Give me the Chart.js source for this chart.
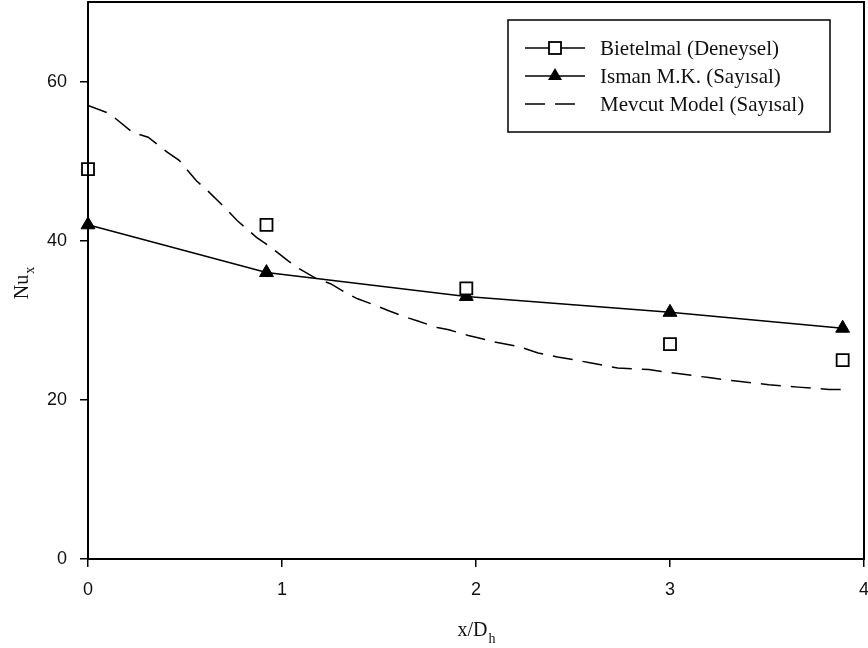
<!DOCTYPE html>
<html>
<head>
<meta charset="utf-8">
<script src="https://cdn.jsdelivr.net/npm/chart.js@4/dist/chart.umd.min.js"></script>
<style>
  html, body { margin: 0; padding: 0; background: #fff; }
  #wrap { width: 868px; height: 648px; }
</style>
</head>
<body>
<div id="wrap"><canvas id="grafica" width="868" height="648"></canvas></div>
<script>
// Nu_x datos
const xPuntos = [0, 0.92, 1.95, 3.0, 3.89];
const bietelmal = [49, 42, 34, 27, 25];
const isman = [42, 36, 33, 31, 29];

const modeloX = [0, 0.11, 0.23, 0.31, 0.41, 0.47, 0.56, 0.62, 0.72, 0.77, 0.87, 0.93, 1.03, 1.08,
    1.18, 1.25, 1.34, 1.39, 1.49, 1.55, 1.65, 1.70, 1.80, 1.86, 1.96, 2.01, 2.11, 2.22, 2.32, 2.42,
    2.58, 2.73, 2.89, 3.04, 3.20, 3.33, 3.51, 3.66, 3.82, 3.89];
const modeloY = [57.0, 56.0, 53.6, 53.0, 51.1, 50.1, 47.5, 46.2, 43.8, 42.5, 40.4, 39.4, 37.5, 36.6,
    35.2, 34.6, 33.3, 32.7, 31.8, 31.2, 30.3, 29.9, 29.1, 28.8, 28.1, 27.8, 27.2, 26.7, 25.9, 25.4,
    24.7, 24.0, 23.8, 23.3, 22.8, 22.4, 21.9, 21.6, 21.3, 21.3];

const xTicks = [0, 1, 2, 3, 4];
const yTicks = [0, 20, 40, 60];

const etiquetas = ['Bietelmal (Deneysel)', 'Isman M.K. (Sayısal)', 'Mevcut Model (Sayısal)'];

const serif = '"Liberation Serif", "Times New Roman", serif';
const sans = '"Liberation Sans", Arial, sans-serif';

const pares = (xs, ys) => xs.map((x, i) => ({ x: x, y: ys[i] }));

// sin relleno extra por las etiquetas de los extremos
function sinPadding(s) {
    s.paddingTop = 0;
    s.paddingBottom = 0;
    s.paddingLeft = 0;
    s.paddingRight = 0;
}

// marco, leyenda y títulos de ejes
const extras = {
    id: 'extras',
    afterDraw(chart) {
        const ctx = chart.ctx;
        const a = chart.chartArea;
        ctx.save();
        ctx.strokeStyle = '#000';
        ctx.lineWidth = 2;
        ctx.strokeRect(a.left, a.top, a.right - a.left, a.bottom - a.top);

        // leyenda
        const lx = 508, ly = 20, lw = 322, lh = 112;
        ctx.lineWidth = 1.5;
        ctx.strokeRect(lx, ly, lw, lh);
        const filas = [48, 76, 104];
        ctx.font = '21px ' + serif;
        ctx.fillStyle = '#111';
        ctx.textBaseline = 'middle';
        filas.forEach((fy, i) => {
            ctx.beginPath();
            ctx.lineWidth = 1.5;
            ctx.setLineDash(i === 2 ? [20, 10] : []);
            ctx.moveTo(525, fy);
            ctx.lineTo(585, fy);
            ctx.stroke();
            ctx.setLineDash([]);
            if (i === 0) {
                ctx.fillStyle = '#fff';
                ctx.fillRect(549, fy - 6, 12, 12);
                ctx.lineWidth = 1.8;
                ctx.strokeRect(549, fy - 6, 12, 12);
            } else if (i === 1) {
                ctx.beginPath();
                ctx.moveTo(555, fy - 8);
                ctx.lineTo(562, fy + 4);
                ctx.lineTo(548, fy + 4);
                ctx.closePath();
                ctx.fillStyle = '#000';
                ctx.fill();
            }
            ctx.fillStyle = '#111';
            ctx.fillText(etiquetas[i], 600, fy + 1);
        });

        // título eje x: x/D_h
        ctx.textBaseline = 'alphabetic';
        ctx.font = '20px ' + serif;
        const base = 'x/D';
        const wBase = ctx.measureText(base).width;
        ctx.font = '14px ' + serif;
        const wSub = ctx.measureText('h').width;
        const cx = (a.left + a.right) / 2;
        const x0 = cx - (wBase + wSub) / 2;
        ctx.font = '20px ' + serif;
        ctx.fillText(base, x0, 636);
        ctx.font = '14px ' + serif;
        ctx.fillText('h', x0 + wBase + 1, 643);

        // título eje y: Nu_x
        ctx.translate(28, 287);
        ctx.rotate(-Math.PI / 2);
        ctx.font = '20px ' + serif;
        const wNu = ctx.measureText('Nu').width;
        ctx.fillText('Nu', -wNu / 2, 0);
        ctx.font = '14px ' + serif;
        ctx.fillText('x', wNu / 2 + 1, 6);
        ctx.restore();
    }
};

new Chart(document.getElementById('grafica'), {
    type: 'scatter',
    data: {
        datasets: [
            {
                label: etiquetas[0],
                data: pares(xPuntos, bietelmal),
                showLine: false,
                clip: false,
                pointStyle: 'rect',
                pointRadius: 8.5,
                pointBackgroundColor: '#fff',
                pointBorderColor: '#000',
                pointBorderWidth: 1.8
            },
            {
                label: etiquetas[1],
                data: pares(xPuntos, isman),
                showLine: true,
                clip: false,
                borderColor: '#000',
                borderWidth: 1.5,
                pointStyle: 'triangle',
                pointRadius: 8,
                pointBackgroundColor: '#000',
                pointBorderColor: '#000',
                pointBorderWidth: 1,
                tension: 0
            },
            {
                label: etiquetas[2],
                data: pares(modeloX, modeloY),
                showLine: true,
                borderColor: '#000',
                borderWidth: 1.5,
                borderDash: [20, 10],
                pointRadius: 0,
                tension: 0
            }
        ]
    },
    options: {
        responsive: false,
        animation: false,
        layout: { autoPadding: false, padding: { top: 2, right: 4, left: 0, bottom: 0 } },
        plugins: {
            legend: { display: false },
            tooltip: { enabled: false }
        },
        scales: {
            x: {
                type: 'linear',
                min: 0,
                max: 4,
                afterBuildTicks: s => { s.ticks = xTicks.map(v => ({ value: v })); },
                afterFit: s => { s.height = 89; sinPadding(s); },
                ticks: {
                    color: '#111',
                    font: { family: sans, size: 18 },
                    padding: 12,
                    maxRotation: 0
                },
                grid: { drawOnChartArea: false, tickLength: 8, color: '#000', lineWidth: 1.5 },
                border: { color: '#000', width: 2 }
            },
            y: {
                min: 0,
                max: 70,
                afterBuildTicks: s => { s.ticks = yTicks.map(v => ({ value: v })); },
                afterFit: s => { s.width = 88; sinPadding(s); },
                ticks: {
                    color: '#111',
                    font: { family: sans, size: 18 },
                    padding: 13
                },
                grid: { drawOnChartArea: false, tickLength: 8, color: '#000', lineWidth: 1.5 },
                border: { color: '#000', width: 2 }
            }
        }
    },
    plugins: [extras]
});
</script>
</body>
</html>
